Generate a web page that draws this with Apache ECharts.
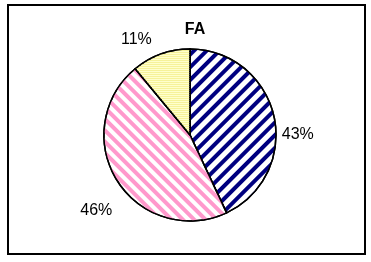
<!DOCTYPE html>
<html>
<head>
<meta charset="utf-8">
<script src="https://cdn.jsdelivr.net/npm/echarts@6/dist/echarts.min.js"></script>
<style>
html,body{margin:0;padding:0;background:#fff;}
#c{width:371px;height:262px;}
</style>
</head>
<body>
<div id="c"></div>
<script>
var title = 'FA';
var categories = ['A', 'B', 'C'];
var values = [43, 46, 11];

var chart = echarts.init(document.getElementById('c'), null, {renderer: 'canvas'});
var styles = [
  {color: '#ffffff', decal: {symbol: 'rect', symbolSize: 1, dashArrayX: [1, 0], dashArrayY: [4, 5], rotation: -Math.PI / 4, color: '#000080'}},
  {color: '#ffffff', decal: {symbol: 'rect', symbolSize: 1, dashArrayX: [1, 0], dashArrayY: [4, 4], rotation: Math.PI / 4, color: '#ff99cc'}},
  {color: '#ffffcc', decal: {symbol: 'rect', symbolSize: 1, dashArrayX: [1, 0], dashArrayY: [1, 1], rotation: 0, color: '#f6f29a'}}
];
var labelShift = [[-3, 20], [5, 26], [-2, -9]];
var data = categories.map(function (c, i) {
  return {
    name: c,
    value: values[i],
    itemStyle: {color: styles[i].color, decal: styles[i].decal, borderColor: '#000', borderWidth: 1.5}
  };
});
chart.setOption({
  animation: false,
  backgroundColor: '#fff',
  title: {
    text: title, left: 190, top: 17, textAlign: 'center',
    textStyle: {fontFamily: 'Liberation Sans', fontWeight: 'bold', fontSize: 16, color: '#000'}
  },
  graphic: [{
    type: 'rect', shape: {x: 8, y: 5, width: 357, height: 249},
    style: {fill: 'none', stroke: '#000', lineWidth: 2}, silent: true, z: 100
  }],
  series: [{
    type: 'pie',
    center: [190, 135],
    radius: 86,
    startAngle: 90,
    clockwise: true,
    data: data,
    label: {
      show: true, position: 'outside', formatter: '{c}%',
      fontFamily: 'Liberation Sans', fontSize: 16, color: '#000'
    },
    labelLine: {show: false, length: 6, length2: 0},
    labelLayout: function (p) {
      var s = labelShift[p.dataIndex];
      return {dx: s[0], dy: s[1]};
    },
    emphasis: {disabled: true}
  }]
});
</script>
</body>
</html>
